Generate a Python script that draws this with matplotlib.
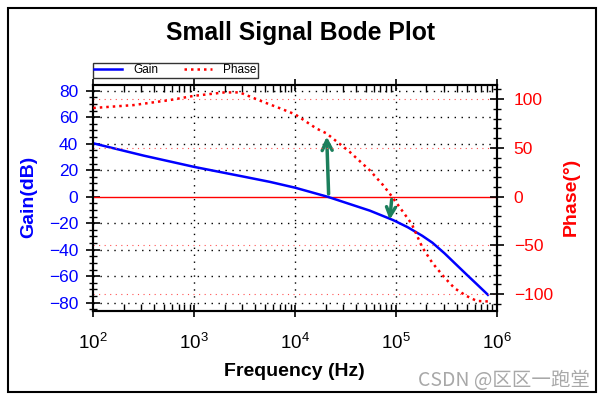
import matplotlib
matplotlib.use("Agg")
import matplotlib.pyplot as plt
import numpy as np
from matplotlib.ticker import FixedLocator, NullFormatter, MultipleLocator, LogLocator
from matplotlib.patches import Rectangle

# ---- data ----
logf_gain = [2.0, 2.5, 3.0, 3.5, 3.75, 4.0, 4.32, 4.54, 4.74, 4.97, 5.115, 5.26,
             5.36, 5.48, 5.6, 5.70, 5.8, 5.91]
gain_db   = [40.3, 31.0, 22.5, 15.0, 11.2, 6.8, 0.0, -5.5, -10.5, -17.6, -23.0, -29.5,
             -34.7, -42.7, -51.5, -58.8, -66.0, -74.0]
logf_phase = [2.0, 2.4, 2.75, 3.0, 3.3, 3.45, 3.57, 3.68, 3.85, 4.0, 4.21, 4.31, 4.54, 4.74,
              4.87, 4.96, 5.155, 5.26, 5.36, 5.48, 5.58, 5.70, 5.80, 5.91]
phase_deg  = [91.0, 94.0, 99.0, 103.5, 107.0, 107.0, 102.0, 97.4, 90.7, 84.5, 70.0, 65.0,
              46.0, 27.0, 12.0, 0.0, -28.0, -52.0, -68.0, -83.0, -94.0, -102.0, -107.0, -107.5]
gain_ticks = [80, 60, 40, 20, 0, -20, -40, -60, -80]
phase_ticks = [100, 50, 0, -50, -100]
freq_ticks = [1e2, 1e3, 1e4, 1e5, 1e6]
freq_labels = [r"$10^2$", r"$10^3$", r"$10^4$", r"$10^5$", r"$10^6$"]
title = "Small Signal Bode Plot"

W, H = 606, 399
plt.rcParams['font.family'] = ['Liberation Sans', 'DejaVu Sans']
plt.rcParams['mathtext.fontset'] = 'custom'
plt.rcParams['mathtext.rm'] = 'Liberation Sans'
plt.rcParams['mathtext.it'] = 'Liberation Sans'

fig = plt.figure(figsize=(W/100, H/100), dpi=100)
fig.patch.set_facecolor('white')

def fx(px): return px / W
def fy(py): return 1 - py / H

x0, x1, yt, yb = 93.3, 497.0, 85.0, 310.7
ax = fig.add_axes([fx(x0), fy(yb), fx(x1) - fx(x0), fy(yt) - fy(yb)])
ax2 = ax.twinx()

f_g = 10 ** np.array(logf_gain)
f_p = 10 ** np.array(logf_phase)

# grid
for g in gain_ticks:
    if g != 0:
        ax.axhline(g, color='black', lw=1.0, ls=(0, (1, 4)), zorder=1)
for f in freq_ticks[1:-1]:
    ax.axvline(f, color='black', lw=1.0, ls=(0, (1, 4)), zorder=1)
for p in phase_ticks:
    if p != 0:
        ax2.axhline(p, color='#ff5050', lw=0.8, ls=(0, (1, 4)), zorder=1)
ax.axhline(0, color='red', lw=1.0, zorder=2)

lg, = ax.plot(f_g, gain_db, color='blue', lw=1.8, zorder=4, label='Gain')
lp, = ax2.plot(f_p, phase_deg, color='red', lw=1.8, ls=(0, (1, 1.6)), zorder=4, label='Phase')

ax.set_xscale('log')
ax.set_xlim(1e2, 1e6)
ax.set_ylim(-86.0, 84.3)
ax2.set_ylim(-117.0, 114.6)

# green annotation arrows
green = '#1c7f5c'
ax.annotate('', xy=(2.05e4, 47.5), xytext=(2.15e4, 0), xycoords='data',
            arrowprops=dict(arrowstyle='->', color=green, lw=2.5, mutation_scale=18), zorder=6)
ax.annotate('', xy=(8.6e4, -19.5), xytext=(9.1e4, 0),
            arrowprops=dict(arrowstyle='->', color=green, lw=2.5, mutation_scale=16), zorder=6)

# ticks
ax.xaxis.set_major_locator(FixedLocator(freq_ticks))
ax.set_xticklabels(freq_labels, fontsize=13.5)
ax.xaxis.set_minor_locator(LogLocator(base=10, subs=np.arange(2, 10)))
ax.xaxis.set_minor_formatter(NullFormatter())
ax.tick_params(axis='x', which='major', direction='inout', length=8, width=1.2,
               top=True, pad=12)
ax.tick_params(axis='x', which='minor', direction='in', length=5, width=1.0, top=True)

ax.yaxis.set_major_locator(FixedLocator(gain_ticks))
ax.yaxis.set_minor_locator(MultipleLocator(5))
ax.tick_params(axis='y', which='major', direction='inout', length=10, width=1.2,
               labelcolor='blue', labelsize=12.5, pad=6)
ax.tick_params(axis='y', which='minor', direction='inout', length=6, width=1.0)

ax2.yaxis.set_major_locator(FixedLocator(phase_ticks))
ax2.yaxis.set_minor_locator(MultipleLocator(10))
ax2.tick_params(axis='y', which='major', direction='inout', length=10, width=1.2,
                labelcolor='red', labelsize=12.5, pad=7)
ax2.tick_params(axis='y', which='minor', direction='inout', length=6, width=1.0)

for a in (ax, ax2):
    for s in a.spines.values():
        s.set_linewidth(1.5)
        s.set_color('black')

# labels
fig.text(fx(301), fy(33), title, ha='center', va='center', fontsize=17.8, fontweight='bold')
fig.text(fx(294), fy(372), "Frequency (Hz)", ha='center', va='center', fontsize=14, fontweight='bold')
fig.text(fx(29), fy(197), "Gain(dB)", ha='center', va='center', rotation=90,
         fontsize=14, fontweight='bold', color='blue')
fig.text(fx(571), fy(197), "Phase(°)", ha='center', va='center', rotation=90,
         fontsize=14, fontweight='bold', color='red')

# legend
leg = fig.legend([lg, lp], ['Gain', 'Phase'], loc='lower left',
                 bbox_to_anchor=(fx(93.3), fy(77.5)), ncol=2, fontsize=8.5,
                 frameon=True, fancybox=False, borderpad=0.1, handlelength=2.3,
                 handletextpad=1.0, columnspacing=2.2, borderaxespad=0)
leg.get_frame().set_edgecolor('black')
leg.get_frame().set_linewidth(1.0)

# watermark
fig.text(fx(590), fy(380), "CSDN @区区一跑堂", ha='right', va='center', fontsize=14,
         color='#a8a8a8', family=['Noto Sans CJK SC', 'DejaVu Sans'])

# outer frame
fig.patches.append(Rectangle((fx(8), fy(392)), fx(596) - fx(8), fy(8) - fy(392),
                             transform=fig.transFigure, fill=False, edgecolor='black', lw=1.5))

fig.savefig('out.png', dpi=100)
